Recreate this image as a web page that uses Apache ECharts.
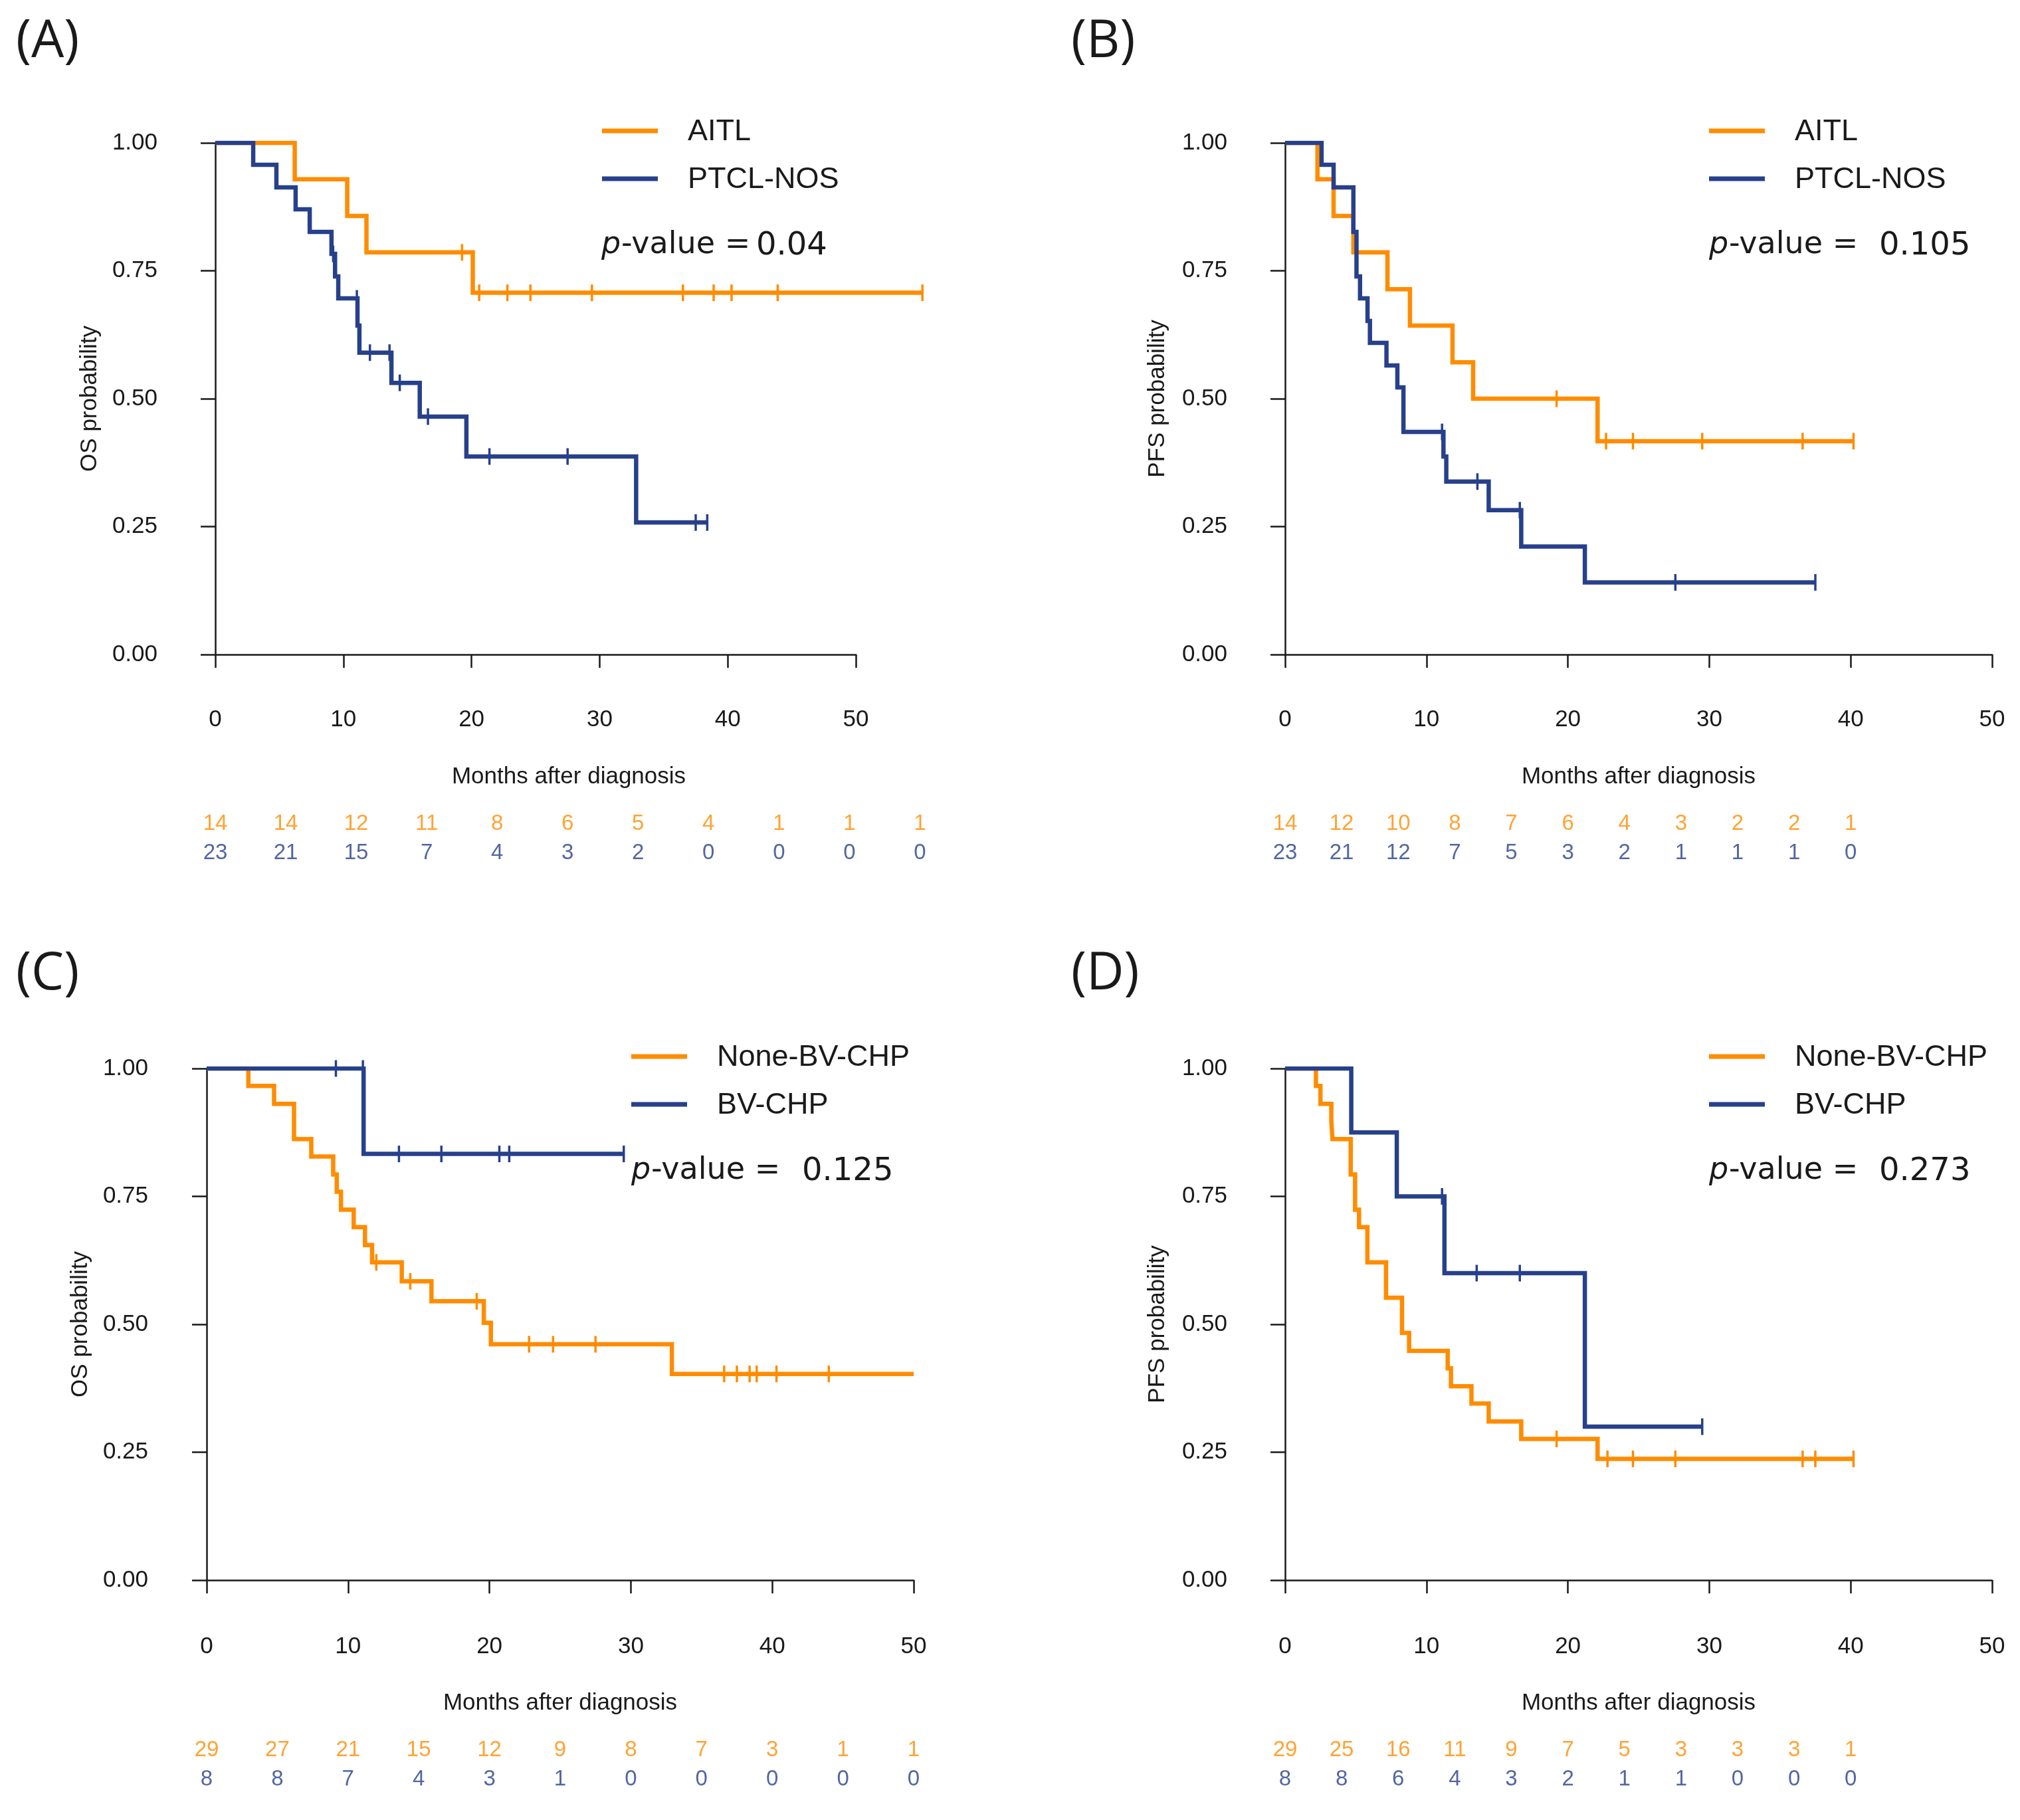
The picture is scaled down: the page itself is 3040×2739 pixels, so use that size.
<!DOCTYPE html>
<html lang="en">
<head>
<meta charset="UTF-8">
<title>OS / PFS Kaplan-Meier</title>
<script src="https://cdn.jsdelivr.net/npm/echarts@6/dist/echarts.min.js"></script>
<style>
  html, body { margin: 0; padding: 0; background: #fff; }
  #chart { width: 3040px; height: 2739px; }
</style>
</head>
<body>
<div id="chart"></div>
<script>
  // ---------- values ----------
  // KM steps: [month, survival after the drop]; censor marks: months

  // (A) OS, AITL vs PTCL-NOS
  var aitlOsSteps = [[0, 1], [6.2, 0.929], [10.3, 0.857], [11.8, 0.786], [20.1, 0.707]];
  var aitlOsEnd = 55.2;
  var aitlOsCens = [19.26, 20.6, 22.8, 24.6, 29.4, 36.5, 38.9, 40.3, 43.9, 55.2];
  var ptclOsSteps = [[0, 1], [2.96, 0.957], [4.77, 0.913], [6.27, 0.870], [7.37, 0.826], [9.07, 0.783],
    [9.35, 0.739], [9.6, 0.696], [11.1, 0.643], [11.25, 0.590], [13.75, 0.531], [15.96, 0.465],
    [19.6, 0.387], [32.85, 0.258]];
  var ptclOsEnd = 38.4;
  var ptclOsCens = [9.2, 11.05, 12.07, 13.6, 14.4, 16.6, 21.4, 27.5, 37.5, 38.4];

  // (B) PFS, AITL vs PTCL-NOS
  var aitlPfsSteps = [[0, 1], [2.29, 0.929], [3.43, 0.857], [4.83, 0.786], [7.24, 0.714], [8.83, 0.643],
    [11.84, 0.571], [13.3, 0.5], [22.1, 0.417]];
  var aitlPfsEnd = 40.2;
  var aitlPfsCens = [19.2, 22.7, 24.6, 29.5, 36.6, 40.2];
  var ptclPfsSteps = [[0, 1], [2.58, 0.957], [3.43, 0.913], [4.83, 0.826], [5.05, 0.739], [5.3, 0.696],
    [5.83, 0.652], [6.0, 0.609], [7.17, 0.565], [7.94, 0.522], [8.37, 0.435], [11.2, 0.387],
    [11.4, 0.338], [14.4, 0.282], [16.7, 0.211], [21.2, 0.141]];
  var ptclPfsEnd = 37.5;
  var ptclPfsCens = [11.1, 13.6, 16.6, 27.6, 37.5];

  // (C) OS, None-BV-CHP vs BV-CHP
  var noneOsSteps = [[0, 1], [2.95, 0.966], [4.77, 0.931], [6.18, 0.862], [7.4, 0.828], [8.95, 0.793],
    [9.2, 0.759], [9.5, 0.724], [10.4, 0.690], [11.2, 0.655], [11.7, 0.621], [13.8, 0.584],
    [15.9, 0.545], [19.6, 0.503], [20.1, 0.461], [32.9, 0.403]];
  var noneOsEnd = 50;
  var noneOsCens = [12.0, 14.4, 19.1, 22.8, 24.5, 27.5, 36.6, 37.5, 38.4, 38.9, 40.3, 44.0];
  var bvOsSteps = [[0, 1], [11.1, 0.833]];
  var bvOsEnd = 29.5;
  var bvOsCens = [9.14, 11.05, 13.6, 16.6, 20.7, 21.4, 29.5];

  // (D) PFS, None-BV-CHP vs BV-CHP
  var nonePfsSteps = [[0, 1], [2.18, 0.966], [2.5, 0.931], [3.27, 0.897], [3.35, 0.862], [4.64, 0.793],
    [4.95, 0.724], [5.23, 0.690], [5.82, 0.621], [7.14, 0.552], [8.27, 0.483], [8.77, 0.448],
    [11.5, 0.414], [11.73, 0.379], [13.18, 0.345], [14.4, 0.310], [16.7, 0.276], [22.1, 0.237]];
  var nonePfsEnd = 40.2;
  var nonePfsCens = [19.2, 22.8, 24.6, 27.6, 36.6, 37.5, 40.2];
  var bvPfsSteps = [[0, 1], [4.68, 0.875], [7.9, 0.75], [11.27, 0.6], [21.2, 0.3]];
  var bvPfsEnd = 29.5;
  var bvPfsCens = [11.1, 13.55, 16.6, 29.5];

  // numbers at risk
  var riskTimesA = [0, 5.5, 11, 16.5, 22, 27.5, 33, 38.5, 44, 49.5, 55];
  var riskTimesB = [0, 4, 8, 12, 16, 20, 24, 28, 32, 36, 40];
  var riskTimesC = [0, 5, 10, 15, 20, 25, 30, 35, 40, 45, 50];
  var riskTimesD = [0, 4, 8, 12, 16, 20, 24, 28, 32, 36, 40];
  var riskA1 = [14, 14, 12, 11, 8, 6, 5, 4, 1, 1, 1];
  var riskA2 = [23, 21, 15, 7, 4, 3, 2, 0, 0, 0, 0];
  var riskB1 = [14, 12, 10, 8, 7, 6, 4, 3, 2, 2, 1];
  var riskB2 = [23, 21, 12, 7, 5, 3, 2, 1, 1, 1, 0];
  var riskC1 = [29, 27, 21, 15, 12, 9, 8, 7, 3, 1, 1];
  var riskC2 = [8, 8, 7, 4, 3, 1, 0, 0, 0, 0, 0];
  var riskD1 = [29, 25, 16, 11, 9, 7, 5, 3, 3, 3, 1];
  var riskD2 = [8, 8, 6, 4, 3, 2, 1, 1, 0, 0, 0];

  var xTicks = [0, 10, 20, 30, 40, 50];
  var yTicks = [0, 0.25, 0.5, 0.75, 1];
  var xSpan = 60; // data grids run a bit past the drawn axis (panel A goes to 55 months)

  // ---------- layout ----------
  var ORANGE = '#FF8C00', BLUE = '#27408B', INK = '#1a1a1a';
  var FONT = 'Liberation Sans';

  var panels = [
    { letter: '(A)', lx: 24, ly: 64, grid: { left: 324, top: 215, width: 964, height: 770 },
      xOff: 32, yOff: 42, riskTop: 1218, xTitle: [856, 1169], yTitle: [135, 600], yName: 'OS probability',
      legend: [906, 197], pv: [905, 369], pvX: 1138, pval: '0.04', names: ['AITL', 'PTCL-NOS'],
      curves: [[aitlOsSteps, aitlOsEnd, aitlOsCens], [ptclOsSteps, ptclOsEnd, ptclOsCens]],
      riskTimes: riskTimesA, risk: [riskA1, riskA2] },
    { letter: '(B)', lx: 1612, ly: 64, grid: { left: 1934, top: 215, width: 1064, height: 770 },
      xOff: 32, yOff: 42, riskTop: 1218, xTitle: [2466, 1169], yTitle: [1742, 600], yName: 'PFS probability',
      legend: [2572, 197], pv: [2572, 369], pvX: 2828, pval: '0.105', names: ['AITL', 'PTCL-NOS'],
      curves: [[aitlPfsSteps, aitlPfsEnd, aitlPfsCens], [ptclPfsSteps, ptclPfsEnd, ptclPfsCens]],
      riskTimes: riskTimesB, risk: [riskB1, riskB2] },
    { letter: '(C)', lx: 24, ly: 1467, grid: { left: 311, top: 1608, width: 1064, height: 770 },
      xOff: 34, yOff: 43, riskTop: 2612, xTitle: [843, 2563], yTitle: [121, 1993], yName: 'OS probability',
      legend: [950, 1590], pv: [950, 1762], pvX: 1207, pval: '0.125', names: ['None-BV-CHP', 'BV-CHP'],
      curves: [[noneOsSteps, noneOsEnd, noneOsCens], [bvOsSteps, bvOsEnd, bvOsCens]],
      riskTimes: riskTimesC, risk: [riskC1, riskC2] },
    { letter: '(D)', lx: 1612, ly: 1467, grid: { left: 1934, top: 1608, width: 1064, height: 770 },
      xOff: 34, yOff: 42, riskTop: 2612, xTitle: [2466, 2563], yTitle: [1742, 1993], yName: 'PFS probability',
      legend: [2572, 1590], pv: [2572, 1762], pvX: 2828, pval: '0.273', names: ['None-BV-CHP', 'BV-CHP'],
      curves: [[nonePfsSteps, nonePfsEnd, nonePfsCens], [bvPfsSteps, bvPfsEnd, bvPfsCens]],
      riskTimes: riskTimesD, risk: [riskD1, riskD2] }
  ];

  // turn KM steps into a staircase polyline
  function stepLine(steps, end) {
    var pts = [];
    steps.forEach(function (s, i) {
      if (i > 0) pts.push([s[0], steps[i - 1][1]]);
      pts.push([s[0], s[1]]);
    });
    pts.push([end, steps[steps.length - 1][1]]);
    return pts;
  }

  function survAt(steps, t) {
    var v = steps[0][1];
    steps.forEach(function (s) { if (s[0] <= t) v = s[1]; });
    return v;
  }

  function text(x, y, str, opt) {
    opt = opt || {};
    return {
      type: 'text', x: x, y: y, rotation: opt.rotation || 0, silent: true,
      style: {
        text: str, fill: opt.color || INK,
        font: (opt.italic ? 'italic ' : '') + (opt.size || 35) + 'px "' + (opt.family || FONT) + '"',
        textAlign: opt.align || 'left', textVerticalAlign: 'middle',
        align: opt.align || 'left', verticalAlign: 'middle'
      }
    };
  }

  function line(x1, x2, y, color) {
    return { type: 'line', silent: true, shape: { x1: x1, y1: y, x2: x2, y2: y }, style: { stroke: color, lineWidth: 7 } };
  }

  var grids = [], xAxes = [], yAxes = [], series = [], graphics = [];
  var colors = [ORANGE, BLUE];

  panels.forEach(function (p, i) {
    var a = 3 * i, d = 3 * i + 1, r = 3 * i + 2;
    var ppm = p.grid.width / xTicks[xTicks.length - 1];

    // drawn axes (0..50, 0..1)
    grids.push(Object.assign({ outerBoundsMode: 'none' }, p.grid));
    // data area, same scale, wider so curves past 50 months are not clipped
    grids.push({ outerBoundsMode: 'none', left: p.grid.left, top: p.grid.top, height: p.grid.height, width: ppm * xSpan });
    // number-at-risk rows
    grids.push({ outerBoundsMode: 'none', left: p.grid.left, width: ppm * xSpan, top: p.riskTop, height: 88 });

    xAxes.push({
      gridIndex: a, type: 'value', min: xTicks[0], max: xTicks[xTicks.length - 1], interval: xTicks[1] - xTicks[0],
      offset: p.xOff,
      axisLine: { lineStyle: { color: INK, width: 2.5 } },
      axisTick: { length: 20, lineStyle: { color: INK, width: 2.5 } },
      axisLabel: { color: INK, fontSize: 35, fontFamily: FONT, margin: 49 },
      splitLine: { show: false }
    });
    xAxes.push({ gridIndex: d, type: 'value', min: 0, max: xSpan, show: false });
    xAxes.push({ gridIndex: r, type: 'value', min: 0, max: xSpan, show: false });

    yAxes.push({
      gridIndex: a, type: 'value', min: yTicks[0], max: yTicks[yTicks.length - 1], interval: yTicks[1] - yTicks[0],
      offset: p.yOff,
      axisLine: { show: true, lineStyle: { color: INK, width: 2.5 } },
      axisTick: { show: true, length: 22, lineStyle: { color: INK, width: 2.5 } },
      axisLabel: { color: INK, fontSize: 35, fontFamily: FONT, margin: 45,
        formatter: function (v) { return v.toFixed(2); } },
      splitLine: { show: false }
    });
    yAxes.push({ gridIndex: d, type: 'value', min: 0, max: 1, show: false });
    yAxes.push({ gridIndex: r, type: 'category', data: [p.names[1], p.names[0]], show: false });

    p.curves.forEach(function (c, k) {
      series.push({
        type: 'line', xAxisIndex: d, yAxisIndex: d, data: stepLine(c[0], c[1]),
        showSymbol: false, silent: true,
        lineStyle: { color: colors[k], width: 6.5, join: 'miter', cap: 'butt' }
      });
    });
    p.curves.forEach(function (c, k) {
      series.push({
        type: 'scatter', xAxisIndex: d, yAxisIndex: d, clip: false, silent: true,
        symbol: 'rect', symbolSize: [3.5, 25],
        itemStyle: { color: colors[k], opacity: 1 },
        data: c[2].map(function (t) { return [t, survAt(c[0], t)]; })
      });
    });
    p.risk.forEach(function (vals, k) {
      series.push({
        type: 'scatter', xAxisIndex: r, yAxisIndex: r, silent: true,
        symbolSize: 1, itemStyle: { color: 'rgba(0,0,0,0)' },
        label: { show: true, position: 'inside', formatter: function (q) { return q.value[2]; },
          color: colors[k], fontSize: 33, fontFamily: FONT },
        labelLayout: { hideOverlap: false },
        data: vals.map(function (n, j) { return [p.riskTimes[j], p.names[k], n]; })
      });
    });

    // panel letter, axis titles
    graphics.push(text(p.lx, p.ly, p.letter, { size: 78, family: 'Open Sans' }));
    graphics.push(text(p.xTitle[0], p.xTitle[1], 'Months after diagnosis', { align: 'center' }));
    graphics.push(text(p.yTitle[0], p.yTitle[1], p.yName, { align: 'center', rotation: Math.PI / 2 }));

    // legend
    graphics.push(line(p.legend[0], p.legend[0] + 84, p.legend[1], ORANGE));
    graphics.push(line(p.legend[0], p.legend[0] + 84, p.legend[1] + 72, BLUE));
    graphics.push(text(p.legend[0] + 129, p.legend[1] + 2, p.names[0], { size: 45 }));
    graphics.push(text(p.legend[0] + 129, p.legend[1] + 74, p.names[1], { size: 45 }));

    // p-value
    graphics.push(text(p.pv[0], p.pv[1], 'p', { size: 46, italic: true, family: 'DejaVu Sans' }));
    graphics.push(text(p.pv[0] + 30, p.pv[1], '-value =', { size: 46, family: 'DejaVu Sans' }));
    graphics.push(text(p.pvX, p.pv[1] + 2, p.pval, { size: 48, family: 'DejaVu Sans' }));
  });

  var chart = echarts.init(document.getElementById('chart'), null, { renderer: 'canvas' });
  chart.setOption({
    backgroundColor: '#ffffff',
    animation: false,
    textStyle: { fontFamily: FONT },
    grid: grids,
    xAxis: xAxes,
    yAxis: yAxes,
    series: series,
    graphic: { elements: graphics }
  });
</script>
</body>
</html>
